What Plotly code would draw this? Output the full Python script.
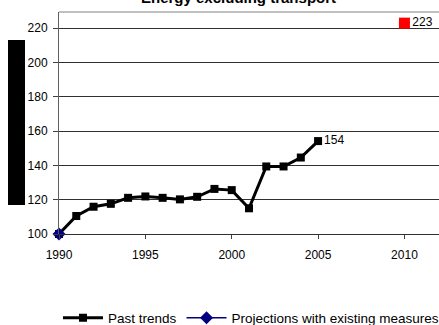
import plotly.graph_objects as go

years = list(range(1990, 2006))
past_trends = [100, 110.5, 115.9, 117.6, 121.1, 121.9, 121.1, 120.2, 121.7, 126.3, 125.6, 115.0, 139.4, 139.4, 144.6, 154.2]
proj_years = [1990]
proj_values = [100]
target_years = [2010]
target_values = [223]

W, H = 439, 325
L, R, T, B = 59, 0, 12, 91
pw, ph = W - L - R, H - T - B

def px_x(p):
    return (p - L) / pw

def px_y(p):
    return (H - B - p) / ph

FONT = "Arial, Liberation Sans, sans-serif"
past_text = [""] * (len(years) - 1) + [str(round(past_trends[-1]))]

fig = go.Figure()
fig.add_trace(go.Scatter(
    x=years, y=past_trends, mode="lines+markers+text", name="Past trends",
    line=dict(color="black", width=3),
    marker=dict(symbol="square", size=8, color="black"),
    text=past_text, textposition="middle right",
    textfont=dict(family=FONT, size=12, color="black"),
    cliponaxis=False,
))
fig.add_trace(go.Scatter(
    x=proj_years, y=proj_values, mode="lines+markers", name="Projections with existing measures",
    line=dict(color="#000080", width=1.5),
    marker=dict(symbol="diamond", size=10, color="#000080"),
    cliponaxis=False,
))
fig.add_trace(go.Scatter(
    x=target_years, y=target_values, mode="markers+text", name="Target",
    marker=dict(symbol="square", size=11, color="red"),
    text=[str(v) for v in target_values], textposition="middle right",
    textfont=dict(family=FONT, size=12, color="black"),
    showlegend=False, cliponaxis=False,
))

fig.add_shape(type="rect", xref="paper", yref="paper",
              x0=px_x(8), x1=px_x(25), y0=px_y(205), y1=px_y(40),
              fillcolor="black", line=dict(width=0))

fig.add_annotation(text="<b>Energy excluding transport</b>", xref="paper", yref="paper",
                   x=px_x(238), y=px_y(8), xanchor="center", yanchor="bottom",
                   showarrow=False, font=dict(family=FONT, size=15, color="black"))

fig.update_layout(
    width=W, height=H,
    margin=dict(l=L, r=R, t=T, b=B, pad=0, autoexpand=False),
    paper_bgcolor="white", plot_bgcolor="white",
    font=dict(family=FONT, size=12, color="black"),
    showlegend=True,
    legend=dict(orientation="h", x=px_x(58), y=px_y(318), xanchor="left", yanchor="middle",
                font=dict(size=13.5), itemwidth=40, tracegroupgap=0),
)
fig.update_xaxes(range=[1990, 2012], tickmode="array", tickvals=[1990, 1995, 2000, 2005, 2010],
                 ticks="outside", ticklen=4, tickcolor="#404040", ticklabelstandoff=6,
                 showline=True, linecolor="#303030", linewidth=1, showgrid=False, zeroline=False)
fig.update_yaxes(range=[100, 229.5], tickvals=[100, 120, 140, 160, 180, 200, 220],
                 ticks="outside", ticklen=5, tickcolor="#404040", ticklabelstandoff=3,
                 showline=True, linecolor="#606060", linewidth=1,
                 showgrid=True, gridcolor="#303030", gridwidth=1, zeroline=False)
fig.add_shape(type="line", xref="paper", yref="paper", x0=0, x1=1, y0=1, y1=1,
              line=dict(color="#808080", width=1))

fig.write_html("out.html", config={"displayModeBar": False},
               post_script="document.body.style.margin='0';document.body.style.overflow='hidden';")
